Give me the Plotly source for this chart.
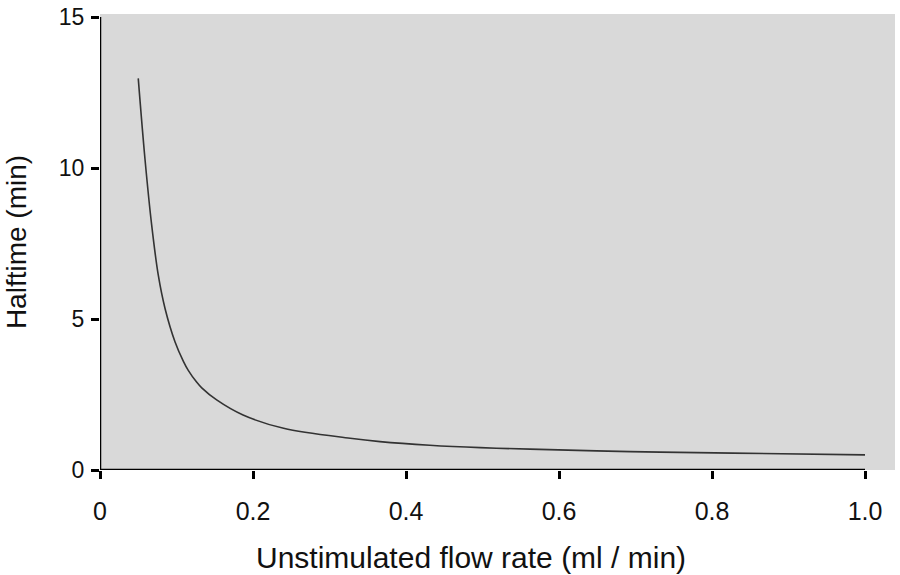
import plotly.graph_objects as go

flow_rate = [0.050, 0.0588, 0.0676, 0.0762, 0.085, 0.098, 0.109, 0.1154, 0.126, 0.133,
             0.1525, 0.187, 0.240, 0.327, 0.366, 0.431, 0.497, 0.562, 0.693, 0.827, 1.0]
halftime = [12.97, 10.3, 8.1, 6.45, 5.35, 4.25, 3.6, 3.3, 2.92, 2.72,
            2.32, 1.82, 1.38, 1.05, 0.94, 0.82, 0.74, 0.69, 0.61, 0.56, 0.50]

x_ticks = [0, 0.2, 0.4, 0.6, 0.8, 1.0]
x_tick_labels = ["0", "0.2", "0.4", "0.6", "0.8", "1.0"]
y_ticks = [0, 5, 10, 15]
y_tick_labels = ["0", "5", "10", "15"]
x_title = "Unstimulated flow rate (ml / min)"
y_title = "Halftime (min)"

fig = go.Figure()
fig.add_trace(go.Scatter(x=flow_rate, y=halftime, mode="lines",
                         line=dict(color="#333333", width=1.6, shape="spline", smoothing=1.0),
                         hoverinfo="skip", showlegend=False))

font = "Liberation Sans, Arial, sans-serif"
fig.update_layout(
    width=900, height=575,
    margin=dict(l=100, r=5, t=14, b=105),
    paper_bgcolor="white", plot_bgcolor="#d9d9d9",
    font=dict(family=font, color="#111111", size=24),
    xaxis=dict(range=[0, 1.0392], tickvals=x_ticks, ticktext=x_tick_labels,
               showgrid=False, zeroline=False, showline=False,
               ticks="outside", ticklen=8, tickwidth=2.5, tickcolor="black",
               tickfont=dict(size=25), ticklabelstandoff=11),
    yaxis=dict(range=[0, 15.1], tickvals=y_ticks, ticktext=y_tick_labels,
               showgrid=False, zeroline=False, showline=False,
               ticks="outside", ticklen=8, tickwidth=2.5, tickcolor="black",
               tickfont=dict(size=23), ticklabelstandoff=2,
               title=dict(text=y_title, font=dict(size=28), standoff=24)),
)
fig.add_annotation(text=x_title, xref="paper", yref="paper", x=0.4667, y=-0.1908,
                   xanchor="center", yanchor="middle", showarrow=False,
                   font=dict(size=30, family=font, color="#111111"))
fig.add_shape(type="line", xref="x", yref="y", x0=0, x1=1.0, y0=0, y1=0,
              line=dict(color="black", width=2.5))
fig.add_shape(type="line", xref="x", yref="y", x0=0, x1=0, y0=0, y1=15,
              line=dict(color="black", width=2.5))
fig.write_html("out.html")
